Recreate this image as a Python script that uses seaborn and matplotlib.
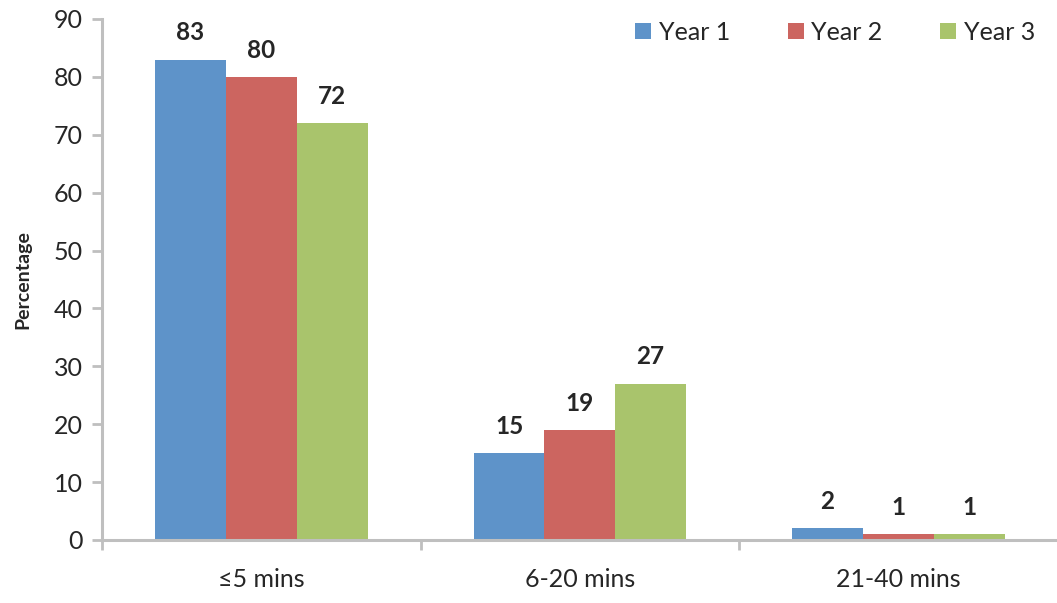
import pandas as pd
import seaborn as sns
import matplotlib.pyplot as plt
from matplotlib.ticker import FixedLocator

categories = ["≤5 mins", "6-20 mins", "21-40 mins"]
years = ["Year 1", "Year 2", "Year 3"]
year1 = [83, 15, 2]
year2 = [80, 19, 1]
year3 = [72, 27, 1]
colors = ["#5E93C9", "#CC6560", "#A9C46C"]

df = pd.DataFrame({
    "Time": categories * 3,
    "Year": [y for y in years for _ in categories],
    "Percentage": year1 + year2 + year3,
})

sns.set_theme(style="white")
plt.rcParams["font.family"] = ["Lato", "DejaVu Sans"]

fig = plt.figure(figsize=(10.57, 6.03), dpi=100)
ax = fig.add_axes([0.0966, 0.1045, 0.904, 0.864])

sns.barplot(data=df, x="Time", y="Percentage", hue="Year", palette=colors,
            width=0.667, gap=0, saturation=1, ax=ax, errorbar=None,
            linewidth=0, edgecolor="none")

for c in ax.containers:
    ax.bar_label(c, fontsize=17.5, fontweight="bold", padding=11)

ax.set_xlim(-0.5, 2.5)
ax.set_ylim(0, 90)
ax.set_yticks(range(0, 91, 10))
ax.set_ylabel("Percentage", fontsize=14, fontweight="bold", labelpad=16)
ax.set_xlabel("")

grey = "#BFBFBF"
for s in ["top", "right"]:
    ax.spines[s].set_visible(False)
for s in ["left", "bottom"]:
    ax.spines[s].set_color(grey)
    ax.spines[s].set_linewidth(2.2)

ax.tick_params(axis="y", which="major", left=True, length=7, width=2, color=grey,
               labelsize=18, pad=7)
ax.tick_params(axis="x", which="major", bottom=False, labelsize=18, pad=14)
ax.xaxis.set_minor_locator(FixedLocator([-0.5, 0.5, 1.5, 2.5]))
ax.tick_params(axis="x", which="minor", bottom=True, length=7, width=2, color=grey)

ax.legend(loc="upper right", bbox_to_anchor=(1.0, 1.04), ncol=3, frameon=False,
          fontsize=18, handlelength=0.65, handleheight=0.65, handletextpad=0.3,
          columnspacing=2.3)

fig.savefig("out.png", dpi=100)
